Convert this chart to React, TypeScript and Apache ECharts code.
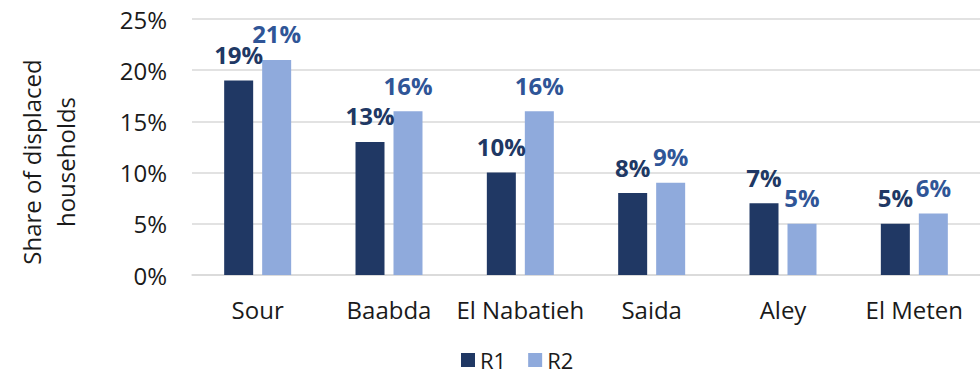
import React, { useEffect, useRef } from "react";
import * as echarts from "echarts";

const categories = ["Sour", "Baabda", "El Nabatieh", "Saida", "Aley", "El Meten"];
const r1Values = [19, 13, 10, 8, 7, 5];
const r2Values = [21, 16, 16, 9, 5, 6];
const yTicks = { min: 0, max: 25, interval: 5 };

const FONT = "'Open Sans', 'Noto Sans', sans-serif";
const R1_COLOR = "#203864";
const R2_COLOR = "#8FAADC";
const R2_LABEL = "#2F5597";
const TEXT = "#1a1a1a";

export default function App() {
  const ref = useRef<HTMLDivElement>(null);

  useEffect(() => {
    if (!ref.current) return;
    const chart = echarts.init(ref.current, null, { renderer: "svg" });
    const labelBase = {
      show: true,
      position: "top" as const,
      distance: 14,
      fontFamily: FONT,
      fontSize: 24,
      fontWeight: "bold" as const,
      formatter: "{c}%",
    };
    chart.setOption({
      animation: false,
      textStyle: { fontFamily: FONT },
      grid: { left: 192, right: 0, top: 19, bottom: 102 },
      legend: {
        top: 349,
        left: 461,
        itemWidth: 14,
        itemHeight: 14,
        itemGap: 22,
        padding: 0,
        icon: "rect",
        textStyle: { fontFamily: FONT, fontSize: 22, color: TEXT, lineHeight: 20 },
        data: ["R1", "R2"],
      },
      xAxis: {
        type: "category",
        data: categories,
        axisLine: { show: true, lineStyle: { color: "#D9D9D9", width: 1.5 } },
        axisTick: { show: false },
        axisLabel: { fontFamily: FONT, fontSize: 24, color: TEXT, margin: 22, interval: 0 },
      },
      yAxis: {
        type: "value",
        min: yTicks.min,
        max: yTicks.max,
        interval: yTicks.interval,
        name: "Share of displaced\nhouseholds",
        nameLocation: "middle",
        nameGap: 110,
        nameTextStyle: {
          fontFamily: FONT,
          fontSize: 24,
          color: TEXT,
          lineHeight: 34,
          padding: [0, 30, 0, 0],
        },
        axisLine: { show: false },
        axisTick: { show: false },
        axisLabel: {
          fontFamily: FONT,
          fontSize: 24,
          color: TEXT,
          margin: 25,
          formatter: "{value}%",
        },
        splitLine: { lineStyle: { color: "#D9D9D9", width: 1.5 } },
      },
      series: [
        {
          name: "R1",
          type: "bar",
          data: r1Values,
          barWidth: 29,
          barGap: "31%",
          itemStyle: { color: R1_COLOR },
          label: { ...labelBase, color: R1_COLOR },
        },
        {
          name: "R2",
          type: "bar",
          data: r2Values,
          barWidth: 29,
          itemStyle: { color: R2_COLOR },
          label: { ...labelBase, color: R2_LABEL },
        },
      ],
    });
    return () => chart.dispose();
  }, []);

  return (
    <div
      ref={ref}
      style={{ position: "fixed", left: 0, top: 0, width: 980, height: 377, background: "#fff" }}
    />
  );
}
